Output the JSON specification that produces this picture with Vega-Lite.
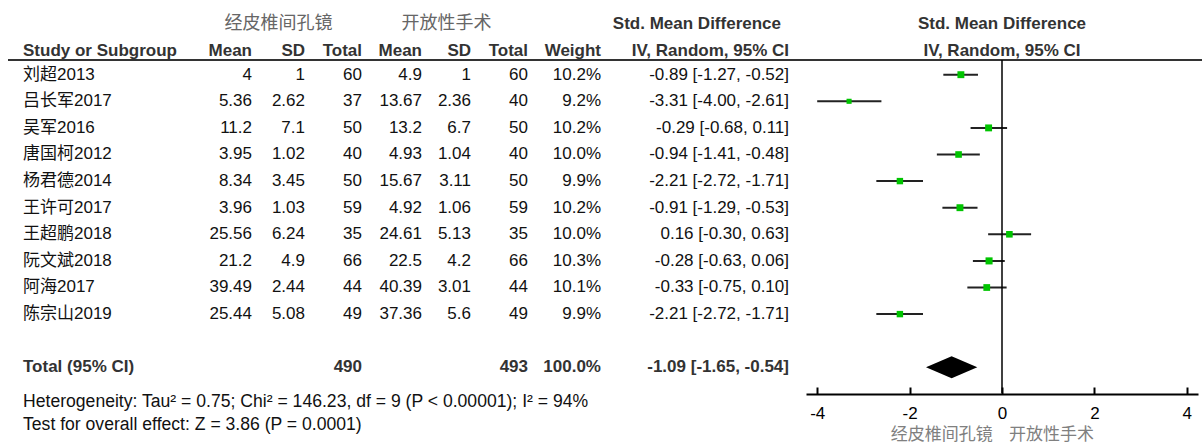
{
  "$schema": "https://vega.github.io/schema/vega-lite/v6.json",
  "padding": {"left": 7, "right": 5, "top": 0, "bottom": 0},
  "spacing": 0,
  "bounds": "flush",
  "background": "white",
  "config": {
    "view": {"stroke": null},
    "text": {"font": "'Liberation Sans', 'Noto Sans CJK SC', sans-serif", "fontSize": 17, "baseline": "middle", "color": "#111"}
  },
  "datasets": {
    "studies": [
      {"row": 1, "study": "刘超2013", "m1": 4, "sd1": 1, "n1": 60, "m2": 4.9, "sd2": 1, "n2": 60, "w": "10.2%", "weight": 10.2, "ci": "-0.89 [-1.27, -0.52]", "smd": -0.89, "lo": -1.27, "hi": -0.52},
      {"row": 2, "study": "吕长军2017", "m1": 5.36, "sd1": 2.62, "n1": 37, "m2": 13.67, "sd2": 2.36, "n2": 40, "w": "9.2%", "weight": 9.2, "ci": "-3.31 [-4.00, -2.61]", "smd": -3.31, "lo": -4.0, "hi": -2.61},
      {"row": 3, "study": "吴军2016", "m1": 11.2, "sd1": 7.1, "n1": 50, "m2": 13.2, "sd2": 6.7, "n2": 50, "w": "10.2%", "weight": 10.2, "ci": "-0.29 [-0.68, 0.11]", "smd": -0.29, "lo": -0.68, "hi": 0.11},
      {"row": 4, "study": "唐国柯2012", "m1": 3.95, "sd1": 1.02, "n1": 40, "m2": 4.93, "sd2": 1.04, "n2": 40, "w": "10.0%", "weight": 10.0, "ci": "-0.94 [-1.41, -0.48]", "smd": -0.94, "lo": -1.41, "hi": -0.48},
      {"row": 5, "study": "杨君德2014", "m1": 8.34, "sd1": 3.45, "n1": 50, "m2": 15.67, "sd2": 3.11, "n2": 50, "w": "9.9%", "weight": 9.9, "ci": "-2.21 [-2.72, -1.71]", "smd": -2.21, "lo": -2.72, "hi": -1.71},
      {"row": 6, "study": "王许可2017", "m1": 3.96, "sd1": 1.03, "n1": 59, "m2": 4.92, "sd2": 1.06, "n2": 59, "w": "10.2%", "weight": 10.2, "ci": "-0.91 [-1.29, -0.53]", "smd": -0.91, "lo": -1.29, "hi": -0.53},
      {"row": 7, "study": "王超鹏2018", "m1": 25.56, "sd1": 6.24, "n1": 35, "m2": 24.61, "sd2": 5.13, "n2": 35, "w": "10.0%", "weight": 10.0, "ci": "0.16 [-0.30, 0.63]", "smd": 0.16, "lo": -0.30, "hi": 0.63},
      {"row": 8, "study": "阮文斌2018", "m1": 21.2, "sd1": 4.9, "n1": 66, "m2": 22.5, "sd2": 4.2, "n2": 66, "w": "10.3%", "weight": 10.3, "ci": "-0.28 [-0.63, 0.06]", "smd": -0.28, "lo": -0.63, "hi": 0.06},
      {"row": 9, "study": "阿海2017", "m1": 39.49, "sd1": 2.44, "n1": 44, "m2": 40.39, "sd2": 3.01, "n2": 44, "w": "10.1%", "weight": 10.1, "ci": "-0.33 [-0.75, 0.10]", "smd": -0.33, "lo": -0.75, "hi": 0.10},
      {"row": 10, "study": "陈宗山2019", "m1": 25.44, "sd1": 5.08, "n1": 49, "m2": 37.36, "sd2": 5.6, "n2": 49, "w": "9.9%", "weight": 9.9, "ci": "-2.21 [-2.72, -1.71]", "smd": -2.21, "lo": -2.72, "hi": -1.71}
    ],
    "total": [
      {"row": 12, "label": "Total (95% CI)", "n1": 490, "n2": 493, "w": "100.0%", "ci": "-1.09 [-1.65, -0.54]", "smd": -1.09, "lo": -1.65, "hi": -0.54}
    ]
  },
  "hconcat": [
    {
      "width": 244, "height": 445,
      "layer": [
        {"data": {"values": [{}]}, "mark": {"type": "rule", "color": "#333", "strokeWidth": 2}, "encoding": {"x": {"value": 0}, "x2": {"value": "width"}, "y": {"datum": 0.447, "type": "quantitative", "scale": {"domain": [-1.808, 14.921], "reverse": true, "nice": false, "zero": false}, "axis": null}}},
        {"data": {"values": [{}]}, "mark": {"type": "text", "text": "Study or Subgroup", "align": "left", "dx": 15, "fontWeight": "bold", "color": "#333"}, "encoding": {"x": {"value": 0}, "y": {"datum": 0.1, "type": "quantitative", "axis": null}}},
        {"data": {"values": [{}]}, "mark": {"type": "text", "text": "Mean", "align": "right", "fontWeight": "bold", "color": "#333"}, "encoding": {"x": {"value": "width"}, "y": {"datum": 0.1, "type": "quantitative", "axis": null}}},
        {"data": {"name": "studies"}, "mark": {"type": "text", "align": "left", "dx": 15}, "encoding": {"x": {"value": 0}, "y": {"field": "row", "type": "quantitative", "axis": null}, "text": {"field": "study", "type": "nominal"}}},
        {"data": {"name": "studies"}, "mark": {"type": "text", "align": "right"}, "encoding": {"x": {"value": "width"}, "y": {"field": "row", "type": "quantitative", "axis": null}, "text": {"field": "m1", "type": "nominal"}}},
        {"data": {"name": "total"}, "mark": {"type": "text", "align": "left", "dx": 15, "fontWeight": "bold", "color": "#333"}, "encoding": {"x": {"value": 0}, "y": {"field": "row", "type": "quantitative", "axis": null}, "text": {"field": "label", "type": "nominal"}}},
        {"data": {"values": [{}]}, "mark": {"type": "text", "text": "Heterogeneity: Tau² = 0.75; Chi² = 146.23, df = 9 (P < 0.00001); I² = 94%", "align": "left", "dx": 15, "fontSize": 17.6}, "encoding": {"x": {"value": 0}, "y": {"datum": 13.29, "type": "quantitative", "axis": null}}},
        {"data": {"values": [{}]}, "mark": {"type": "text", "text": "Test for overall effect: Z = 3.86 (P = 0.0001)", "align": "left", "dx": 15, "fontSize": 17.6}, "encoding": {"x": {"value": 0}, "y": {"datum": 14.17, "type": "quantitative", "axis": null}}}
      ]
    },
    {
      "width": 53, "height": 445,
      "layer": [
        {"data": {"values": [{}]}, "mark": {"type": "rule", "color": "#333", "strokeWidth": 2}, "encoding": {"x": {"value": 0}, "x2": {"value": "width"}, "y": {"datum": 0.447, "type": "quantitative", "scale": {"domain": [-1.808, 14.921], "reverse": true, "nice": false, "zero": false}, "axis": null}}},
        {"data": {"values": [{}]}, "mark": {"type": "text", "text": "经皮椎间孔镜", "align": "center", "font": "'Noto Sans CJK SC', sans-serif", "fontSize": 18, "color": "#666"}, "encoding": {"y": {"datum": -0.9, "type": "quantitative", "axis": null}}},
        {"data": {"values": [{}]}, "mark": {"type": "text", "text": "SD", "align": "right", "fontWeight": "bold", "color": "#333"}, "encoding": {"x": {"value": "width"}, "y": {"datum": 0.1, "type": "quantitative", "axis": null}}},
        {"data": {"name": "studies"}, "mark": {"type": "text", "align": "right"}, "encoding": {"x": {"value": "width"}, "y": {"field": "row", "type": "quantitative", "axis": null}, "text": {"field": "sd1", "type": "nominal"}}}
      ]
    },
    {
      "width": 57, "height": 445,
      "layer": [
        {"data": {"values": [{}]}, "mark": {"type": "rule", "color": "#333", "strokeWidth": 2}, "encoding": {"x": {"value": 0}, "x2": {"value": "width"}, "y": {"datum": 0.447, "type": "quantitative", "scale": {"domain": [-1.808, 14.921], "reverse": true, "nice": false, "zero": false}, "axis": null}}},
        {"data": {"values": [{}]}, "mark": {"type": "text", "text": "Total", "align": "right", "fontWeight": "bold", "color": "#333"}, "encoding": {"x": {"value": "width"}, "y": {"datum": 0.1, "type": "quantitative", "axis": null}}},
        {"data": {"name": "studies"}, "mark": {"type": "text", "align": "right"}, "encoding": {"x": {"value": "width"}, "y": {"field": "row", "type": "quantitative", "axis": null}, "text": {"field": "n1", "type": "nominal"}}},
        {"data": {"name": "total"}, "mark": {"type": "text", "align": "right", "fontWeight": "bold", "color": "#333"}, "encoding": {"x": {"value": "width"}, "y": {"field": "row", "type": "quantitative", "axis": null}, "text": {"field": "n1", "type": "nominal"}}}
      ]
    },
    {
      "width": 60, "height": 445,
      "layer": [
        {"data": {"values": [{}]}, "mark": {"type": "rule", "color": "#333", "strokeWidth": 2}, "encoding": {"x": {"value": 0}, "x2": {"value": "width"}, "y": {"datum": 0.447, "type": "quantitative", "scale": {"domain": [-1.808, 14.921], "reverse": true, "nice": false, "zero": false}, "axis": null}}},
        {"data": {"values": [{}]}, "mark": {"type": "text", "text": "Mean", "align": "right", "fontWeight": "bold", "color": "#333"}, "encoding": {"x": {"value": "width"}, "y": {"datum": 0.1, "type": "quantitative", "axis": null}}},
        {"data": {"name": "studies"}, "mark": {"type": "text", "align": "right"}, "encoding": {"x": {"value": "width"}, "y": {"field": "row", "type": "quantitative", "axis": null}, "text": {"field": "m2", "type": "nominal"}}}
      ]
    },
    {
      "width": 49, "height": 445,
      "layer": [
        {"data": {"values": [{}]}, "mark": {"type": "rule", "color": "#333", "strokeWidth": 2}, "encoding": {"x": {"value": 0}, "x2": {"value": "width"}, "y": {"datum": 0.447, "type": "quantitative", "scale": {"domain": [-1.808, 14.921], "reverse": true, "nice": false, "zero": false}, "axis": null}}},
        {"data": {"values": [{}]}, "mark": {"type": "text", "text": "开放性手术", "align": "center", "font": "'Noto Sans CJK SC', sans-serif", "fontSize": 18, "color": "#666"}, "encoding": {"y": {"datum": -0.9, "type": "quantitative", "axis": null}}},
        {"data": {"values": [{}]}, "mark": {"type": "text", "text": "SD", "align": "right", "fontWeight": "bold", "color": "#333"}, "encoding": {"x": {"value": "width"}, "y": {"datum": 0.1, "type": "quantitative", "axis": null}}},
        {"data": {"name": "studies"}, "mark": {"type": "text", "align": "right"}, "encoding": {"x": {"value": "width"}, "y": {"field": "row", "type": "quantitative", "axis": null}, "text": {"field": "sd2", "type": "nominal"}}}
      ]
    },
    {
      "width": 57, "height": 445,
      "layer": [
        {"data": {"values": [{}]}, "mark": {"type": "rule", "color": "#333", "strokeWidth": 2}, "encoding": {"x": {"value": 0}, "x2": {"value": "width"}, "y": {"datum": 0.447, "type": "quantitative", "scale": {"domain": [-1.808, 14.921], "reverse": true, "nice": false, "zero": false}, "axis": null}}},
        {"data": {"values": [{}]}, "mark": {"type": "text", "text": "Total", "align": "right", "fontWeight": "bold", "color": "#333"}, "encoding": {"x": {"value": "width"}, "y": {"datum": 0.1, "type": "quantitative", "axis": null}}},
        {"data": {"name": "studies"}, "mark": {"type": "text", "align": "right"}, "encoding": {"x": {"value": "width"}, "y": {"field": "row", "type": "quantitative", "axis": null}, "text": {"field": "n2", "type": "nominal"}}},
        {"data": {"name": "total"}, "mark": {"type": "text", "align": "right", "fontWeight": "bold", "color": "#333"}, "encoding": {"x": {"value": "width"}, "y": {"field": "row", "type": "quantitative", "axis": null}, "text": {"field": "n2", "type": "nominal"}}}
      ]
    },
    {
      "width": 73, "height": 445,
      "layer": [
        {"data": {"values": [{}]}, "mark": {"type": "rule", "color": "#333", "strokeWidth": 2}, "encoding": {"x": {"value": 0}, "x2": {"value": "width"}, "y": {"datum": 0.447, "type": "quantitative", "scale": {"domain": [-1.808, 14.921], "reverse": true, "nice": false, "zero": false}, "axis": null}}},
        {"data": {"values": [{}]}, "mark": {"type": "text", "text": "Weight", "align": "right", "fontWeight": "bold", "color": "#333"}, "encoding": {"x": {"value": "width"}, "y": {"datum": 0.1, "type": "quantitative", "axis": null}}},
        {"data": {"name": "studies"}, "mark": {"type": "text", "align": "right"}, "encoding": {"x": {"value": "width"}, "y": {"field": "row", "type": "quantitative", "axis": null}, "text": {"field": "w", "type": "nominal"}}},
        {"data": {"name": "total"}, "mark": {"type": "text", "align": "right", "fontWeight": "bold", "color": "#333"}, "encoding": {"x": {"value": "width"}, "y": {"field": "row", "type": "quantitative", "axis": null}, "text": {"field": "w", "type": "nominal"}}}
      ]
    },
    {
      "width": 205, "height": 445,
      "layer": [
        {"data": {"values": [{}]}, "mark": {"type": "rule", "color": "#333", "strokeWidth": 2}, "encoding": {"x": {"value": 0}, "x2": {"value": "width"}, "y": {"datum": 0.447, "type": "quantitative", "scale": {"domain": [-1.808, 14.921], "reverse": true, "nice": false, "zero": false}, "axis": null}}},
        {"data": {"values": [{}]}, "mark": {"type": "text", "text": "Std. Mean Difference", "align": "right", "dx": -25, "fontWeight": "bold", "color": "#333"}, "encoding": {"x": {"value": "width"}, "y": {"datum": -0.9, "type": "quantitative", "axis": null}}},
        {"data": {"values": [{}]}, "mark": {"type": "text", "text": "IV, Random, 95% CI", "align": "right", "dx": -17, "fontWeight": "bold", "color": "#333"}, "encoding": {"x": {"value": "width"}, "y": {"datum": 0.1, "type": "quantitative", "axis": null}}},
        {"data": {"name": "studies"}, "mark": {"type": "text", "align": "right", "dx": -17}, "encoding": {"x": {"value": "width"}, "y": {"field": "row", "type": "quantitative", "axis": null}, "text": {"field": "ci", "type": "nominal"}}},
        {"data": {"name": "total"}, "mark": {"type": "text", "align": "right", "dx": -17, "fontWeight": "bold", "color": "#333"}, "encoding": {"x": {"value": "width"}, "y": {"field": "row", "type": "quantitative", "axis": null}, "text": {"field": "ci", "type": "nominal"}}}
      ]
    },
    {
      "width": 392, "height": 445,
      "layer": [
        {"data": {"values": [{}]}, "mark": {"type": "rule", "color": "#333", "strokeWidth": 2, "x2Offset": 5}, "encoding": {"x": {"value": 0}, "x2": {"value": "width"}, "y": {"datum": 0.447, "type": "quantitative", "scale": {"domain": [-1.808, 14.921], "reverse": true, "nice": false, "zero": false}, "axis": null}}},
        {"data": {"values": [{}]}, "mark": {"type": "text", "text": "Std. Mean Difference", "align": "center", "fontWeight": "bold", "color": "#333"}, "encoding": {"y": {"datum": -0.9, "type": "quantitative", "axis": null}}},
        {"data": {"values": [{}]}, "mark": {"type": "text", "text": "IV, Random, 95% CI", "align": "center", "fontWeight": "bold", "color": "#333"}, "encoding": {"y": {"datum": 0.1, "type": "quantitative", "axis": null}}},
        {"data": {"name": "studies"}, "mark": {"type": "rule", "color": "#222", "strokeWidth": 2}, "encoding": {
          "x": {"field": "lo", "type": "quantitative", "scale": {"domain": [-4.2424, 4.2424], "nice": false, "zero": false},
                "axis": {"values": [-4, -2, 0, 2, 4], "title": null, "offset": -51, "tickSize": -7, "tickWidth": 2, "tickColor": "#000", "domainWidth": 2, "domainColor": "#000", "labelPadding": 18, "labelFontSize": 17, "labelFont": "'Liberation Sans', sans-serif", "labelColor": "#000", "labelExpr": "'' + datum.value", "grid": false, "labelFlush": false, "labelBaseline": "top"}},
          "x2": {"field": "hi"},
          "y": {"field": "row", "type": "quantitative", "axis": null}}},
        {"data": {"values": [{}]}, "mark": {"type": "rule", "color": "#000", "strokeWidth": 1.5}, "encoding": {"x": {"datum": 0, "type": "quantitative"}, "y": {"datum": 0.447, "type": "quantitative", "axis": null}, "y2": {"datum": 12.98}}},
        {"data": {"name": "studies"}, "mark": {"type": "point", "shape": "square", "filled": true, "color": "#00c400", "opacity": 1}, "encoding": {
          "x": {"field": "smd", "type": "quantitative"},
          "y": {"field": "row", "type": "quantitative", "axis": null},
          "size": {"field": "weight", "type": "quantitative", "scale": {"domain": [9.2, 10.3], "range": [26, 50]}, "legend": null}}},
        {"data": {"name": "total"}, "mark": {"type": "point", "shape": "M-1,0L0,-0.43L1,0L0,0.43Z", "filled": true, "color": "#000", "opacity": 1, "size": 2632}, "encoding": {
          "x": {"field": "smd", "type": "quantitative"},
          "y": {"field": "row", "type": "quantitative", "axis": null}}},
        {"data": {"values": [{}]}, "mark": {"type": "text", "text": "经皮椎间孔镜", "align": "right", "font": "'Noto Sans CJK SC', sans-serif", "fontSize": 17, "color": "#808080"}, "encoding": {"x": {"datum": -0.2, "type": "quantitative"}, "y": {"datum": 14.55, "type": "quantitative", "axis": null}}},
        {"data": {"values": [{}]}, "mark": {"type": "text", "text": "开放性手术", "align": "left", "font": "'Noto Sans CJK SC', sans-serif", "fontSize": 17, "color": "#808080"}, "encoding": {"x": {"datum": 0.15, "type": "quantitative"}, "y": {"datum": 14.55, "type": "quantitative", "axis": null}}}
      ]
    }
  ]
}
